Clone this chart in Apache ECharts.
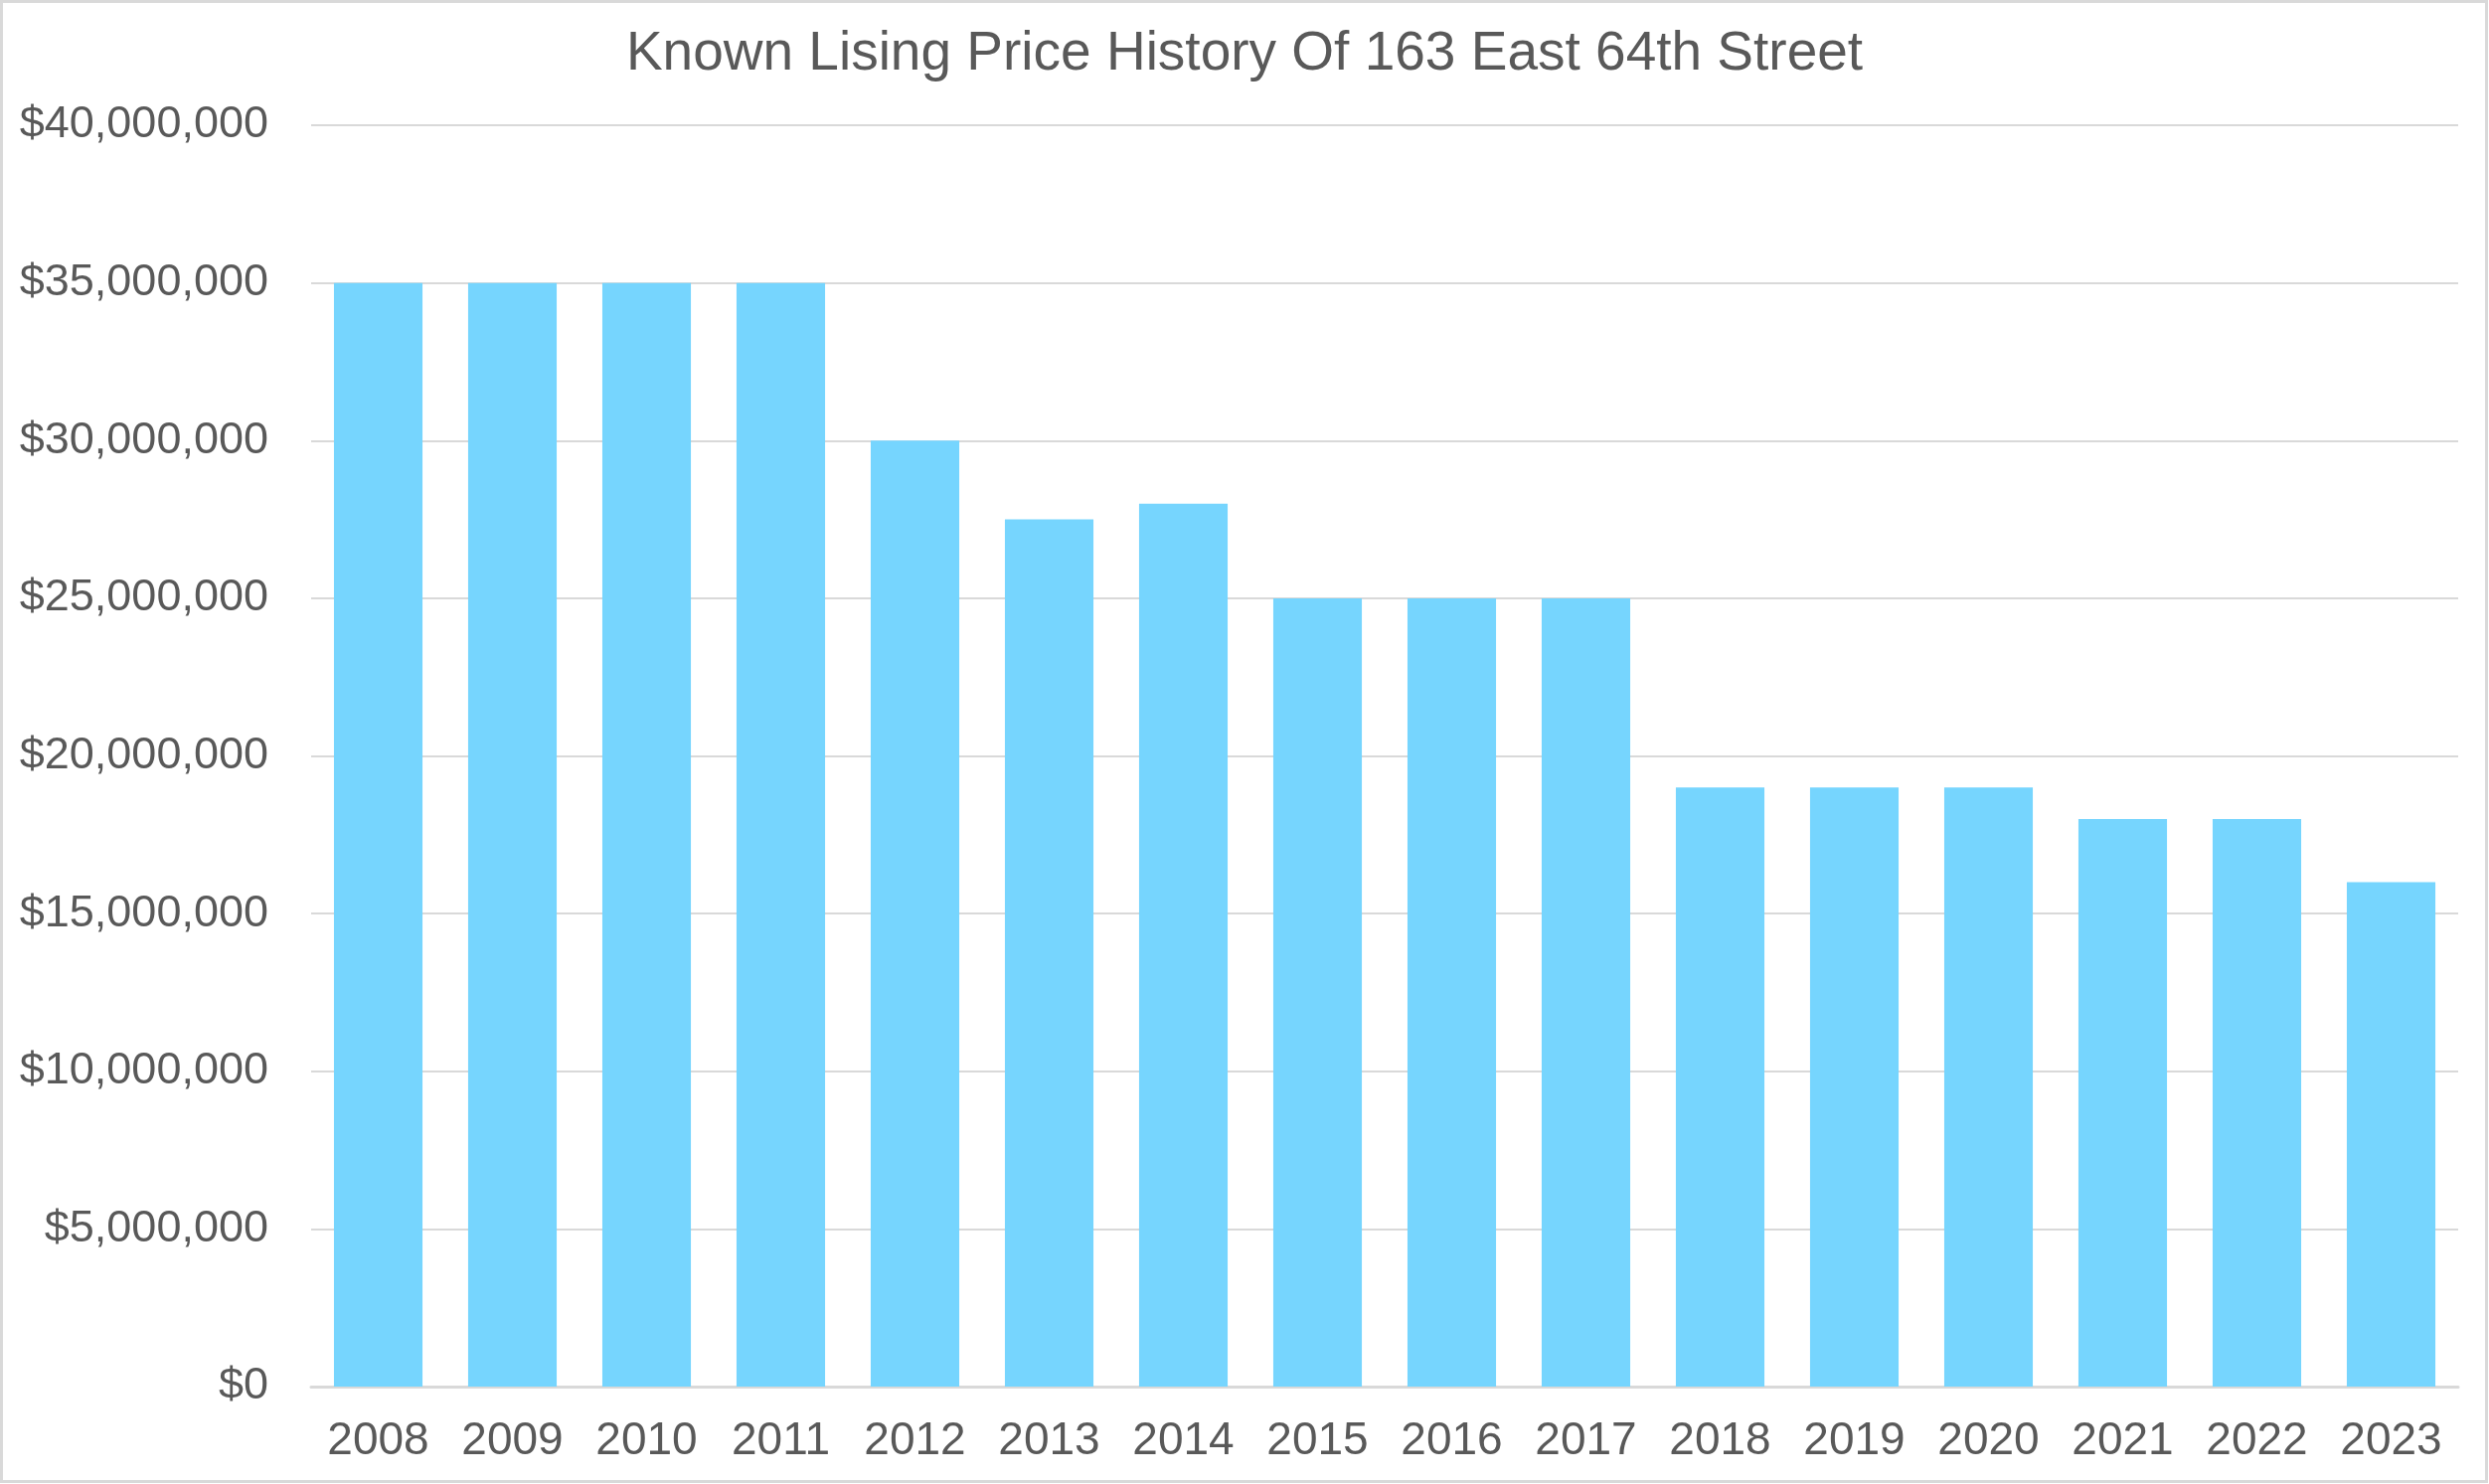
<!DOCTYPE html>
<html><head><meta charset="utf-8">
<script src="https://cdn.jsdelivr.net/npm/echarts@6/dist/echarts.min.js"></script>
<style>html,body{margin:0;padding:0;background:#fff}#c{width:2504px;height:1493px}</style>
</head><body><div id="c"></div>
<script>
const years = ['2008','2009','2010','2011','2012','2013','2014','2015','2016','2017','2018','2019','2020','2021','2022','2023'];
const prices = [35000000,35000000,35000000,35000000,30000000,27500000,28000000,25000000,25000000,25000000,19000000,19000000,19000000,18000000,18000000,16000000];
const titleText = 'Known Lising Price History Of 163 East 64th Street';

const chart = echarts.init(document.getElementById('c'));
const fmt = v => '$' + v.toLocaleString('en-US');
chart.setOption({
  animation:false,
  backgroundColor:'#fff',
  title:{text:titleText,left:'center',top:22,textStyle:{fontFamily:'Liberation Sans',fontSize:55,fontWeight:'normal',color:'#595959'}},
  graphic:[{type:'rect',shape:{x:1.5,y:1.5,width:2500,height:1489},style:{fill:'none',stroke:'#d9d9d9',lineWidth:3},silent:true}],
  grid:{left:313,right:31,top:126,bottom:98,containLabel:false},
  xAxis:{type:'category',data:years,
    axisLine:{lineStyle:{color:'#d9d9d9',width:3}},axisTick:{show:false},
    axisLabel:{fontFamily:'Liberation Sans',fontSize:46,color:'#595959',margin:32}},
  yAxis:{type:'value',min:0,max:40000000,interval:5000000,
    axisLine:{show:false},axisTick:{show:false},
    splitLine:{lineStyle:{color:'#d9d9d9',width:2}},
    axisLabel:{fontFamily:'Liberation Sans',fontSize:45,color:'#595959',margin:43,formatter:fmt}},
  series:[{type:'bar',data:prices,barCategoryGap:'34%',itemStyle:{color:'#76D5FE'}}]
});
</script></body></html>
